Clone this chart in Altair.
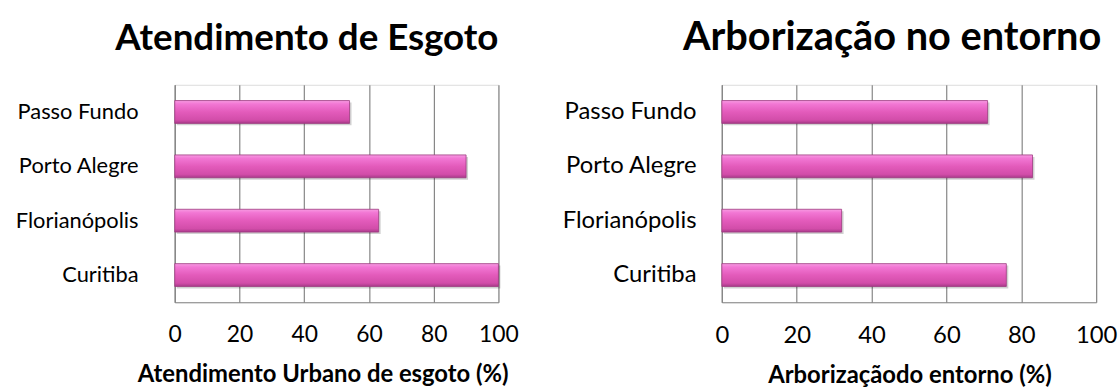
import altair as alt
import pandas as pd

cidades = ["Passo Fundo", "Porto Alegre", "Florianópolis", "Curitiba"]
esgoto = [54, 90, 63, 100]
arborizacao = [71, 83, 32, 76]
ticks = [0, 20, 40, 60, 80, 100]

df1 = pd.DataFrame({"cidade": cidades, "valor": esgoto})
df2 = pd.DataFrame({"cidade": cidades, "valor": arborizacao})

FONT = "Lato"
GRID = "#868686"

bar_fill = alt.Gradient(
    gradient="linear",
    x1=0, x2=0, y1=0, y2=1,
    stops=[
        alt.GradientStop(color="#F79BE2", offset=0),
        alt.GradientStop(color="#F277D4", offset=0.15),
        alt.GradientStop(color="#E35BBB", offset=0.5),
        alt.GradientStop(color="#D24DA9", offset=0.85),
        alt.GradientStop(color="#A93A8A", offset=1),
    ],
)


def panel(df, title, xtitle, width, title_dx, title_size, label_pad,
          label_size, tick_size, xtitle_size, xtitle_x):
    base = alt.Chart(df)
    y = alt.Y(
        "cidade:N",
        sort=cidades,
        title=None,
        scale=alt.Scale(paddingInner=0.58, paddingOuter=0.29),
        axis=alt.Axis(
            labelFont=FONT, labelFontSize=label_size, labelColor="#000000",
            labelPadding=label_pad, ticks=False, domainColor=GRID, domainWidth=1.2,
            labelLimit=300,
        ),
    )
    x = alt.X(
        "valor:Q",
        title=xtitle,
        scale=alt.Scale(domain=[0, 100], nice=False),
        axis=alt.Axis(
            values=ticks, labelFont=FONT, labelFontSize=tick_size, labelColor="#000000",
            labelPadding=22, labelFlush=False, ticks=False, grid=True, gridColor=GRID,
            gridWidth=1.2, domainColor=GRID, domainWidth=1.2,
            titleFont=FONT, titleFontSize=xtitle_size, titleFontWeight="bold",
            titleColor="#000000", titlePadding=16, titleX=xtitle_x, titleAlign="center",
        ),
    )
    shadow = base.mark_bar(color="#000000", opacity=0.18, xOffset=2, yOffset=2).encode(x=x, y=y)
    bars = base.mark_bar(color=bar_fill, stroke="#9C3A80", strokeWidth=0.8).encode(x=x, y=y)
    return alt.layer(shadow, bars).properties(
        width=width,
        height=219,
        title=alt.Title(
            title, font=FONT, fontSize=title_size, fontWeight="bold", color="#000000",
            anchor="middle", dx=title_dx, offset=27,
        ),
    )


left = panel(df1, "Atendimento de Esgoto", "Atendimento Urbano de esgoto  (%)",
             326, -30, 37, 37, 22, 23, 24, 149)
right = panel(df2, "Arborização no entorno", "Arborizaçãodo entorno (%)",
              377, -17, 40, 26, 24, 24, 24, 189)

chart = (
    alt.hconcat(left, right, spacing=42)
    .properties(padding={"left": 14, "top": 16, "right": 0, "bottom": 0})
    .configure_view(stroke=None)
    .configure(background="#FFFFFF")
)

chart.save("out.html", embed_options={"renderer": "svg", "actions": False})
